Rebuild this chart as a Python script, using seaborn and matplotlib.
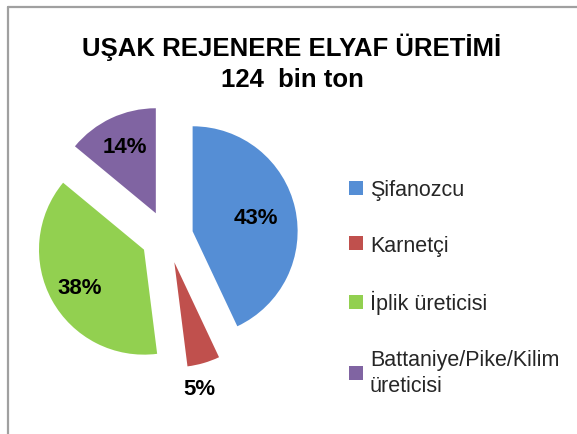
import numpy as np
import matplotlib
matplotlib.use("Agg")
import matplotlib.pyplot as plt
from matplotlib.lines import Line2D
import seaborn as sns

# chart data
categories = ["Şifanozcu", "Karnetçi", "İplik üreticisi", "Battaniye/Pike/Kilim\nüreticisi"]
shares = [43, 5, 38, 14]
colors = ["#558ed5", "#c0504d", "#92d050", "#8064a2"]
title_lines = ["UŞAK REJENERE ELYAF ÜRETİMİ", "124  bin ton"]

sns.set_theme(style="white")
plt.rcParams['font.family'] = ['Liberation Sans Narrow', 'Liberation Sans', 'DejaVu Sans']

fig = plt.figure(figsize=(5.77, 4.35), dpi=100)
fig.patch.set_facecolor("white")

# pie axes: center ~ (167, 238) px, radius ~105 px
W, H = 577, 435
r_px = 105
cx, cy = 167, 238
ax = fig.add_axes([(cx - r_px) / W, 1 - (cy + r_px) / H, 2 * r_px / W, 2 * r_px / H])

wedges, _ = ax.pie(shares, colors=colors, startangle=90, counterclock=False,
                   explode=[0.25] * 4, radius=1.0,
                   wedgeprops=dict(linewidth=0))
ax.set_xlim(-1, 1)
ax.set_ylim(-1, 1)
ax.set_aspect("equal")
ax.axis("off")

# percentage labels (distance from wedge tip, angle tweak in degrees)
label_dist = [0.62, 1.23, 0.71, 0.70]
label_rot = [0, -4.8, 2, 0]
for w, val, d, rot in zip(wedges, shares, label_dist, label_rot):
    ang = np.deg2rad((w.theta1 + w.theta2) / 2 + rot)
    x = w.center[0] + d * w.r * np.cos(ang)
    y = w.center[1] + d * w.r * np.sin(ang)
    ax.text(x, y, f"{val}%", ha="center", va="center", fontsize=16,
            fontweight="bold", color="black", clip_on=False)

# title
fig.text(292 / W, 1 - 47 / H, title_lines[0], ha="center", va="center",
         fontsize=18.5, fontweight="bold", color="black")
fig.text(292 / W, 1 - 80 / H, title_lines[1], ha="center", va="center",
         fontsize=18.5, fontweight="bold", color="black")

# legend
leg = fig.legend(wedges, categories, loc="upper left",
                 bbox_to_anchor=(330 / W, 1 - 161 / H), frameon=False,
                 fontsize=15.5, handlelength=0.65, handleheight=0.65,
                 handletextpad=0.3, labelspacing=1.6)
for t in leg.get_texts():
    t.set_linespacing(1.35)

# frame lines (chart border)
fig.add_artist(Line2D([7.5 / W, 7.5 / W], [0, 1 - 8 / H], color="#a0a0a0", lw=1.6,
                      transform=fig.transFigure))
fig.add_artist(Line2D([7.5 / W, 1], [1 - 8 / H, 1 - 8 / H], color="#a0a0a0", lw=1.6,
                      transform=fig.transFigure))

fig.savefig("out.png", dpi=100, facecolor="white")
